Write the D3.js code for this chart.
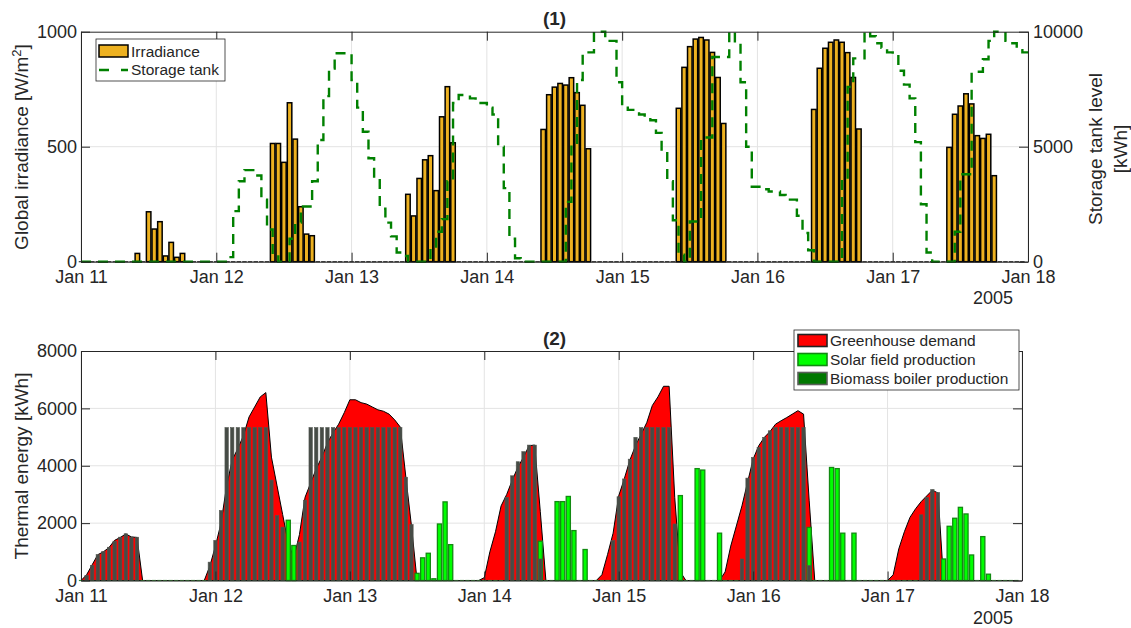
<!DOCTYPE html>
<meta charset="utf-8">
<script src="https://d3js.org/d3.v7.min.js"></script>
<style>
  body { margin: 0; background: #fff; }
  text { font-family: "Liberation Sans", Arial, Helvetica, sans-serif; fill: #262626; }
</style>
<div id="chart"></div>
<script>

// hourly values from Jan 11 2005 00:00 to Jan 17 23:00, one row per day
var irradiance = [
  0,0,0,0,0,0,0,0,0,0,36,0,217,142,174,25,84,19,36,0,0,0,0,0,
  0,0,0,0,0,0,0,0,0,0,514,514,432,691,533,239,120,113,0,0,0,0,0,0,
  0,0,0,0,0,0,0,0,0,0,293,199,362,443,461,309,630,761,517,0,0,0,0,0,
  0,0,0,0,0,0,0,0,0,0,575,726,759,775,768,800,735,680,491,0,0,0,0,0,
  0,0,0,0,0,0,0,0,0,0,667,845,935,968,975,964,910,801,601,0,0,0,0,0,
  0,0,0,0,0,0,0,0,0,0,662,841,928,954,964,954,909,801,577,0,0,0,0,0,
  0,0,0,0,0,0,0,0,0,0,497,641,677,730,686,548,536,554,374,0,0,0,0,0
];

var storage = [
  0,0,0,0,0,0,0,0,0,0,0,0,0,0,0,0,0,0,0,0,0,0,0,0,
  0,0,200,2200,3500,3980,3980,3750,2700,1400,300,0,0,1000,1700,2400,2400,3500,5290,7200,8400,9060,9060,9060,
  7900,6700,5650,4500,3600,2300,1700,1100,400,250,0,0,0,0,600,1300,1850,3500,6900,7250,7250,7100,6900,6900,
  6700,6400,5000,3200,1000,150,0,0,0,0,0,0,0,0,2600,5000,7900,9100,9100,10000,10000,9600,9600,7800,
  6800,6600,6600,6400,6300,6150,5600,4800,3500,1800,300,0,1750,1750,5400,5400,8900,8900,8900,10000,9500,7800,5000,3260,
  3260,3150,3050,3050,2900,2700,2700,2000,1250,500,0,0,0,0,0,3600,7600,8840,8840,10000,9800,9500,9300,9100,
  9000,8300,7700,7100,5200,2500,400,0,0,0,0,1300,3800,3800,8260,8260,8800,9600,10000,10000,9600,9500,9200,9100
];

var demand = [
  0,200,550,900,1000,1150,1400,1500,1620,1520,1500,0,0,0,0,0,0,0,0,0,0,0,0,500,
  1200,2000,3300,4200,4600,5050,5700,6050,6400,6550,4300,3300,2300,1300,800,1600,2900,3400,3900,4300,4800,5150,5450,5850,
  6300,6300,6200,6150,6050,5950,5900,5800,5600,5350,3600,1900,0,0,0,0,0,0,0,0,0,0,0,0,
  100,1000,1700,2600,3000,3500,3950,4300,4700,4720,2400,0,0,0,0,0,0,0,0,0,0,200,900,1650,
  2950,3550,4200,4700,5100,5500,6100,6400,6770,6770,2900,300,0,0,0,0,0,0,0,300,1200,1900,2600,3420,
  4230,4700,4990,5190,5450,5570,5680,5800,5920,5800,2800,0,0,0,0,0,0,0,0,0,0,0,0,0,
  0,200,1100,1700,2200,2500,2750,2950,3150,3050,0,0,0,0,0,0,0,0,0,0,0,0,0,0
];

var solar = [
  0,0,0,0,0,0,0,0,0,0,0,0,0,0,0,0,0,0,0,0,0,0,0,0,
  0,0,0,0,0,0,0,0,0,0,0,0,0,2100,1220,0,0,0,0,0,0,0,0,0,
  0,0,0,0,0,0,0,0,0,0,0,0,250,790,950,60,1970,2740,1250,0,0,0,0,0,
  0,0,0,0,0,0,0,0,0,0,1370,0,0,2750,2750,2930,1740,0,1080,0,0,0,0,0,
  0,0,0,0,0,0,0,0,0,0,0,2960,0,0,3900,3850,0,0,1650,0,0,0,0,0,
  0,0,0,0,0,0,0,0,0,0,1850,0,0,0,3940,3900,1650,0,1650,0,0,0,0,0,
  0,0,0,0,0,0,0,0,0,0,750,1890,2170,2550,2320,890,0,1530,220,0,0,0,0,0
];

var biomass = [
  0,180,530,900,1010,1160,1370,1510,1630,1510,1510,0,0,0,0,0,0,0,0,0,0,0,0,640,
  1400,2440,5330,5330,5330,5330,5330,5330,5330,5330,3500,2260,1860,0,0,1340,2800,5330,5330,5330,5330,5330,5330,5330,
  5330,5330,5330,5330,5330,5330,5330,5330,5330,5330,3600,1950,0,0,0,0,0,0,0,0,0,0,0,0,
  0,0,0,0,2900,3650,4140,4490,4720,4720,750,0,0,0,0,0,0,0,0,0,0,0,0,1390,
  2920,3540,4230,4990,5330,5330,5330,5330,5330,5330,1970,0,0,0,0,0,0,0,0,0,0,0,750,3570,
  4290,4640,4990,5220,5330,5330,5330,5330,5330,5330,520,0,0,0,0,0,0,0,0,0,0,0,0,0,
  0,0,0,0,0,0,2290,2900,3170,3070,0,0,0,0,0,0,0,0,0,0,0,0,0,0
];

var yTicksTop = [0, 500, 1000];
var yTicksRight = [0, 5000, 10000];
var yTicksBottom = [0, 2000, 4000, 6000, 8000];

var svg = d3.select("#chart").append("svg")
    .attr("width", 1131)
    .attr("height", 628);

var t0 = new Date(2005, 0, 11), t1 = new Date(2005, 0, 18);
function hourDate(i) { return d3.timeHour.offset(t0, i); }
var hours = d3.range(irradiance.length);
var fmtDay = d3.timeFormat("%b %d");
var fmtNum = d3.format("d");

// panel positions
var p1 = {left: 81, right: 1028, top: 31.7, bottom: 261.7};
var p2 = {left: 81, right: 1022, top: 351, bottom: 580.5};

var x1 = d3.scaleTime().domain([t0, t1]).range([p1.left, p1.right]);
var y1 = d3.scaleLinear().domain([0, 1000]).range([p1.bottom, p1.top]);
var y1r = d3.scaleLinear().domain([0, 10000]).range([p1.bottom, p1.top]);
var x2 = d3.scaleTime().domain([t0, t1]).range([p2.left, p2.right]);
var y2 = d3.scaleLinear().domain([0, 8000]).range([p2.bottom, p2.top]);

var gridColor = "#e3e3e3", axisColor = "#262626";

function grid(x, y, p, yTicks) {
  var g = svg.append("g");
  g.selectAll("line.vx")
    .data(x.ticks(d3.timeDay.every(1)))
    .join("line")
      .attr("x1", function(d){ return x(d); })
      .attr("x2", function(d){ return x(d); })
      .attr("y1", p.top).attr("y2", p.bottom)
      .attr("stroke", gridColor);
  g.selectAll("line.hy")
    .data(yTicks)
    .join("line")
      .attr("x1", p.left).attr("x2", p.right)
      .attr("y1", function(d){ return y(d); })
      .attr("y2", function(d){ return y(d); })
      .attr("stroke", gridColor);
}

function styleAxis(g) {
  g.attr("font-family", null).attr("font-size", null);
  g.select(".domain").attr("stroke", axisColor);
  g.selectAll(".tick line").attr("stroke", axisColor);
  g.selectAll(".tick text").attr("fill", axisColor).style("font-size", "18px");
}

function frame(x, y, p, yTicks, yr, yrTicks, rightLabels) {
  svg.append("g")
    .attr("transform", "translate(0," + p.bottom + ")")
    .call(d3.axisBottom(x).ticks(d3.timeDay.every(1)).tickFormat(fmtDay)
      .tickSizeInner(-9).tickSizeOuter(0).tickPadding(9))
    .call(styleAxis);
  svg.append("g")
    .attr("transform", "translate(0," + p.top + ")")
    .call(d3.axisTop(x).ticks(d3.timeDay.every(1)).tickFormat("")
      .tickSizeInner(-9).tickSizeOuter(0))
    .call(styleAxis);
  svg.append("g")
    .attr("transform", "translate(" + p.left + ",0)")
    .call(d3.axisLeft(y).tickValues(yTicks).tickFormat(fmtNum)
      .tickSizeInner(-9).tickSizeOuter(0).tickPadding(4))
    .call(styleAxis);
  svg.append("g")
    .attr("transform", "translate(" + p.right + ",0)")
    .call(d3.axisRight(yr).tickValues(yrTicks).tickFormat(rightLabels ? fmtNum : "")
      .tickSizeInner(-9).tickSizeOuter(0).tickPadding(5))
    .call(styleAxis);
}

// ---------- panel (1) ----------
grid(x1, y1, p1, [500]);

var hw1 = x1(hourDate(1)) - x1(t0);

// zero-height bars show as a dotted baseline
svg.append("g").selectAll("line")
  .data(hours)
  .join("line")
    .attr("x1", function(i){ return x1(hourDate(i)) - 0.4 * hw1; })
    .attr("x2", function(i){ return x1(hourDate(i)) + 0.4 * hw1; })
    .attr("y1", y1(0)).attr("y2", y1(0))
    .attr("stroke", "#333").attr("stroke-width", 1.2);

svg.append("g").selectAll("rect")
  .data(hours.filter(function(i){ return irradiance[i] > 0; }))
  .join("rect")
    .attr("x", function(i){ return x1(hourDate(i)) - 0.4 * hw1; })
    .attr("width", 0.8 * hw1)
    .attr("y", function(i){ return y1(irradiance[i]); })
    .attr("height", function(i){ return y1(0) - y1(irradiance[i]); })
    .attr("fill", "#EDB120")
    .attr("stroke", "#000")
    .attr("stroke-width", 1.5);

var storagePts = storage.map(function(v, i){ return [hourDate(i), v]; });
storagePts.push([t1, storage[storage.length - 1]]);

svg.append("path")
  .datum(storagePts)
  .attr("d", d3.line()
    .x(function(d){ return x1(d[0]); })
    .y(function(d){ return y1r(d[1]); })
    .curve(d3.curveStepAfter))
  .attr("fill", "none")
  .attr("stroke", "#008000")
  .attr("stroke-width", 2.4)
  .style("stroke-dasharray", "10, 7");

frame(x1, y1, p1, yTicksTop, y1r, yTicksRight, true);

// legend (1)
var leg1 = svg.append("g");
leg1.append("rect").attr("x", 96).attr("y", 39).attr("width", 129).attr("height", 42)
  .attr("fill", "#fff").attr("stroke", axisColor).attr("stroke-width", 0.8);
leg1.append("rect").attr("x", 99).attr("y", 45).attr("width", 29).attr("height", 12)
  .attr("fill", "#EDB120").attr("stroke", "#000").attr("stroke-width", 1.5);
leg1.append("text").attr("x", 131).attr("y", 57).style("font-size", "15.5px").text("Irradiance");
leg1.append("line").attr("x1", 99).attr("x2", 128).attr("y1", 70).attr("y2", 70)
  .attr("stroke", "#008000").attr("stroke-width", 2.4).style("stroke-dasharray", "10, 12");
leg1.append("text").attr("x", 131).attr("y", 75).style("font-size", "15.5px").text("Storage tank");

svg.append("text").attr("x", 554.5).attr("y", 25).attr("text-anchor", "middle")
  .style("font-size", "19px").style("font-weight", "bold").text("(1)");

var yl1 = svg.append("text")
  .attr("transform", "translate(28,147) rotate(-90)")
  .attr("text-anchor", "middle")
  .style("font-size", "19px");
yl1.append("tspan").text("Global irradiance [W/m");
yl1.append("tspan").attr("dy", -7).style("font-size", "13px").text("2");
yl1.append("tspan").attr("dy", 7).text("]");

var yr1 = svg.append("text")
  .attr("transform", "translate(1102,149) rotate(-90)")
  .attr("text-anchor", "middle")
  .style("font-size", "19px");
yr1.append("tspan").attr("x", 0).attr("dy", 0).text("Storage tank level");
yr1.append("tspan").attr("x", 0).attr("dy", 25).text("[kWh]");

svg.append("text").attr("x", 993).attr("y", 304).attr("text-anchor", "middle")
  .style("font-size", "18px").text("2005");

// ---------- panel (2) ----------
grid(x2, y2, p2, [2000, 4000, 6000]);

var hw2 = x2(hourDate(1)) - x2(t0);

svg.append("path")
  .datum(hours)
  .attr("d", d3.area()
    .x(function(i){ return x2(hourDate(i)); })
    .y0(y2(0))
    .y1(function(i){ return y2(demand[i]); }))
  .attr("fill", "#ff0000")
  .attr("stroke", "#000")
  .attr("stroke-width", 1);

svg.append("g").selectAll("line")
  .data(hours)
  .join("line")
    .attr("x1", function(i){ return x2(hourDate(i)) - 0.38 * hw2; })
    .attr("x2", function(i){ return x2(hourDate(i)) + 0.38 * hw2; })
    .attr("y1", y2(0)).attr("y2", y2(0))
    .attr("stroke", "#3a8a3a").attr("stroke-width", 1.2);

svg.append("g").selectAll("rect")
  .data(hours.filter(function(i){ return solar[i] > 0; }))
  .join("rect")
    .attr("x", function(i){ return x2(hourDate(i)) - 0.37 * hw2; })
    .attr("width", 0.74 * hw2)
    .attr("y", function(i){ return y2(solar[i]); })
    .attr("height", function(i){ return y2(0) - y2(solar[i]); })
    .attr("fill", "#00ff00")
    .attr("stroke", "#128a12")
    .attr("stroke-width", 1.3);

svg.append("g").selectAll("rect")
  .data(hours.filter(function(i){ return biomass[i] > 0; }))
  .join("rect")
    .attr("x", function(i){ return x2(hourDate(i)) - 0.3 * hw2; })
    .attr("width", 0.6 * hw2)
    .attr("y", function(i){ return y2(biomass[i]); })
    .attr("height", function(i){ return y2(0) - y2(biomass[i]); })
    .attr("fill", "#464c46")
    .attr("stroke", "#50554f")
    .attr("stroke-width", 0.6);

frame(x2, y2, p2, yTicksBottom, y2, yTicksBottom, false);

svg.append("text").attr("x", 554.5).attr("y", 345).attr("text-anchor", "middle")
  .style("font-size", "19px").style("font-weight", "bold").text("(2)");

svg.append("text")
  .attr("transform", "translate(28,466) rotate(-90)")
  .attr("text-anchor", "middle")
  .style("font-size", "19px")
  .text("Thermal energy [kWh]");

svg.append("text").attr("x", 993).attr("y", 624).attr("text-anchor", "middle")
  .style("font-size", "18px").text("2005");

// legend (2)
var legItems = [
  {name: "Greenhouse demand", fill: "#ff0000", stroke: "#222"},
  {name: "Solar field production", fill: "#00ff00", stroke: "#128a12"},
  {name: "Biomass boiler production", fill: "#007800", stroke: "#5a5f5a"}
];
var leg2 = svg.append("g");
leg2.append("rect").attr("x", 794).attr("y", 330).attr("width", 225).attr("height", 60)
  .attr("fill", "#fff").attr("stroke", axisColor).attr("stroke-width", 0.8);
leg2.selectAll("rect.item")
  .data(legItems)
  .join("rect")
    .attr("class", "item")
    .attr("x", 798)
    .attr("y", function(d, i){ return 334.5 + i * 19; })
    .attr("width", 29).attr("height", 12)
    .attr("fill", function(d){ return d.fill; })
    .attr("stroke", function(d){ return d.stroke; })
    .attr("stroke-width", 1.6);
leg2.selectAll("text")
  .data(legItems)
  .join("text")
    .attr("x", 830)
    .attr("y", function(d, i){ return 346 + i * 19; })
    .style("font-size", "15.5px")
    .text(function(d){ return d.name; });

</script>
